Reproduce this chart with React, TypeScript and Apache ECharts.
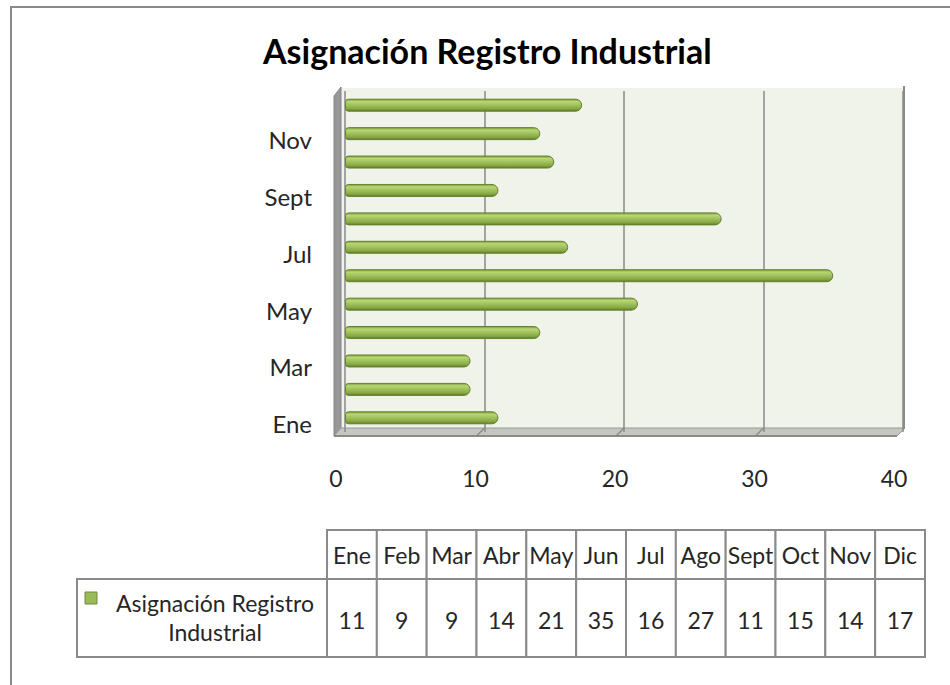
import React, { useEffect, useRef } from "react";
import * as echarts from "echarts";

const TITLE = "Asignación Registro Industrial";
const SERIES_NAME = "Asignación Registro Industrial";
const MONTHS = ["Ene", "Feb", "Mar", "Abr", "May", "Jun", "Jul", "Ago", "Sept", "Oct", "Nov", "Dic"];
const VALUES = [11, 9, 9, 14, 21, 35, 16, 27, 11, 15, 14, 17];
const X_MIN = 0;
const X_MAX = 40;
const X_INTERVAL = 10;

const FONT = "Lato, 'Noto Sans', sans-serif";
const LINE = "#8a8a8a";
const TEXT = "#262626";

// plot geometry (layout, not data)
const G_LEFT = 345;
const G_TOP = 91;
const G_W = 558;
const G_H = 341;
const WALL_TOP = 88;
const WALL_BOTTOM = 428;
const DEPTH = 8;

export default function App() {
  const ref = useRef<HTMLDivElement>(null);

  useEffect(() => {
    if (!ref.current) return;
    const chart = echarts.init(ref.current, undefined, { renderer: "svg" });

    const barGradient = new echarts.graphic.LinearGradient(0, 0, 0, 1, [
      { offset: 0, color: "#7b983d" },
      { offset: 0.2, color: "#b9d772" },
      { offset: 0.45, color: "#a3c460" },
      { offset: 0.8, color: "#86a744" },
      { offset: 1, color: "#5d7a27" },
    ]);

    const unit = G_W / (X_MAX - X_MIN);
    const floorTicks: any[] = [];
    for (let v = X_MIN + X_INTERVAL; v < X_MAX; v += X_INTERVAL) {
      const x = G_LEFT + (v - X_MIN) * unit;
      floorTicks.push({
        type: "line",
        z: -50,
        shape: { x1: x, y1: WALL_BOTTOM, x2: x - DEPTH, y2: WALL_BOTTOM + DEPTH },
        style: { stroke: LINE, lineWidth: 1.5 },
      });
    }

    const option: any = {
      animation: false,
      backgroundColor: "#ffffff",
      title: {
        text: TITLE,
        left: 258,
        top: 28,
        textStyle: { fontFamily: FONT, fontSize: 34, fontWeight: "bold", color: "#000" },
      },
      grid: [
        { left: G_LEFT, top: G_TOP, width: G_W, height: G_H, containLabel: false },
        { left: 327, top: 530, width: 598, height: 127, containLabel: false },
      ],
      xAxis: [
        {
          type: "value",
          gridIndex: 0,
          min: X_MIN,
          max: X_MAX,
          interval: X_INTERVAL,
          axisLine: { show: false },
          axisTick: { show: false },
          splitLine: { show: true, lineStyle: { color: LINE, width: 1.5 } },
          axisLabel: {
            margin: 34,
            color: TEXT,
            fontFamily: FONT,
            fontSize: 23,
            formatter: (v: number) => "{v|" + v + "}",
            rich: { v: { padding: [0, 18, 0, 0], fontFamily: FONT, fontSize: 23, color: TEXT } },
          },
        },
        {
          type: "category",
          gridIndex: 1,
          data: MONTHS,
          show: false,
        },
      ],
      yAxis: [
        {
          type: "category",
          gridIndex: 0,
          data: MONTHS,
          axisLine: { show: false },
          axisTick: { show: false },
          splitLine: { show: false },
          axisLabel: {
            interval: 1,
            margin: 33,
            color: TEXT,
            fontFamily: FONT,
            fontSize: 24,
            formatter: (v: string) => "{v|" + v + "}",
            rich: { v: { padding: [12, 0, 0, 0], fontFamily: FONT, fontSize: 24, color: TEXT } },
          },
        },
        {
          type: "value",
          gridIndex: 1,
          min: 0,
          max: 1,
          show: false,
        },
      ],
      graphic: [
        // back wall
        {
          type: "rect",
          z: -100,
          shape: { x: G_LEFT - 4, y: WALL_TOP, width: G_W + 6, height: WALL_BOTTOM - WALL_TOP },
          style: { fill: "#eff3e9" },
        },
        // right wall edge
        {
          type: "line",
          z: -40,
          shape: { x1: G_LEFT + G_W + 1, y1: WALL_TOP - 2, x2: G_LEFT + G_W + 1, y2: WALL_BOTTOM + 1 },
          style: { stroke: LINE, lineWidth: 2 },
        },
        // left wall
        {
          type: "polygon",
          z: -60,
          shape: {
            points: [
              [G_LEFT - 11, WALL_TOP + DEPTH],
              [G_LEFT - 4, WALL_TOP - 1],
              [G_LEFT - 4, WALL_BOTTOM],
              [G_LEFT - 11, WALL_BOTTOM + DEPTH],
            ],
          },
          style: { fill: "#979797", stroke: "#858585", lineWidth: 1 },
        },
        // floor
        {
          type: "polygon",
          z: -60,
          shape: {
            points: [
              [G_LEFT - 11, WALL_BOTTOM + DEPTH],
              [G_LEFT - 4, WALL_BOTTOM],
              [G_LEFT + G_W + 2, WALL_BOTTOM],
              [G_LEFT + G_W - 6, WALL_BOTTOM + DEPTH],
            ],
          },
          style: { fill: "#c4c6c2", stroke: "#9a9a9a", lineWidth: 1 },
        },
        {
          type: "line",
          z: -55,
          shape: { x1: G_LEFT - 11, y1: WALL_BOTTOM + DEPTH, x2: G_LEFT + G_W - 6, y2: WALL_BOTTOM + DEPTH },
          style: { stroke: "#8a8a8a", lineWidth: 2 },
        },
        ...floorTicks,
        // outer frame
        {
          type: "polyline",
          shape: { points: [[11, 685], [11, 7], [950, 7]] },
          style: { stroke: "#8a8a8a", lineWidth: 2, fill: "none" },
        },
        // legend cell of data table
        {
          type: "rect",
          shape: { x: 77, y: 579, width: 250, height: 78 },
          style: { fill: "#fff", stroke: LINE, lineWidth: 2 },
        },
        {
          type: "rect",
          shape: { x: 85, y: 592, width: 12, height: 12 },
          style: { fill: "#9bbb59", stroke: "#71893f", lineWidth: 1 },
        },
        {
          type: "text",
          x: 215,
          y: 617,
          style: {
            text: "Asignación Registro\nIndustrial",
            align: "center",
            verticalAlign: "middle",
            fontFamily: FONT,
            fontSize: 23,
            lineHeight: 29,
            fill: TEXT,
          },
        },
      ],
      series: [
        {
          name: SERIES_NAME,
          type: "bar",
          xAxisIndex: 0,
          yAxisIndex: 0,
          data: VALUES,
          barWidth: 13,
          itemStyle: {
            color: barGradient,
            borderRadius: [3, 6, 6, 3],
            borderColor: "#66832d",
            borderWidth: 1,
          },
        },
        {
          name: "tabla",
          type: "custom",
          xAxisIndex: 1,
          yAxisIndex: 1,
          data: VALUES.map((v, i) => [i, v]),
          renderItem: (params: any, api: any) => {
            const i = api.value(0);
            const v = api.value(1);
            const cx = api.coord([i, 0])[0];
            const w = api.size([1, 0])[0];
            const top = params.coordSys.y;
            const h = params.coordSys.height;
            const headH = 49;
            return {
              type: "group",
              children: [
                {
                  type: "rect",
                  shape: { x: cx - w / 2, y: top, width: w, height: headH },
                  style: { fill: "#fff", stroke: LINE, lineWidth: 2 },
                },
                {
                  type: "rect",
                  shape: { x: cx - w / 2, y: top + headH, width: w, height: h - headH },
                  style: { fill: "#fff", stroke: LINE, lineWidth: 2 },
                },
                {
                  type: "text",
                  x: cx,
                  y: top + headH / 2,
                  style: {
                    text: MONTHS[i],
                    align: "center",
                    verticalAlign: "middle",
                    fontFamily: FONT,
                    fontSize: 23,
                    fill: TEXT,
                  },
                },
                {
                  type: "text",
                  x: cx,
                  y: top + headH + (h - headH) / 2 + 2,
                  style: {
                    text: String(v),
                    align: "center",
                    verticalAlign: "middle",
                    fontFamily: FONT,
                    fontSize: 23,
                    fill: TEXT,
                  },
                },
              ],
            };
          },
        },
      ],
    };

    chart.setOption(option);
    return () => chart.dispose();
  }, []);

  return (
    <div
      ref={ref}
      style={{ position: "fixed", left: 0, top: 0, width: 950, height: 685, background: "#fff" }}
    />
  );
}
